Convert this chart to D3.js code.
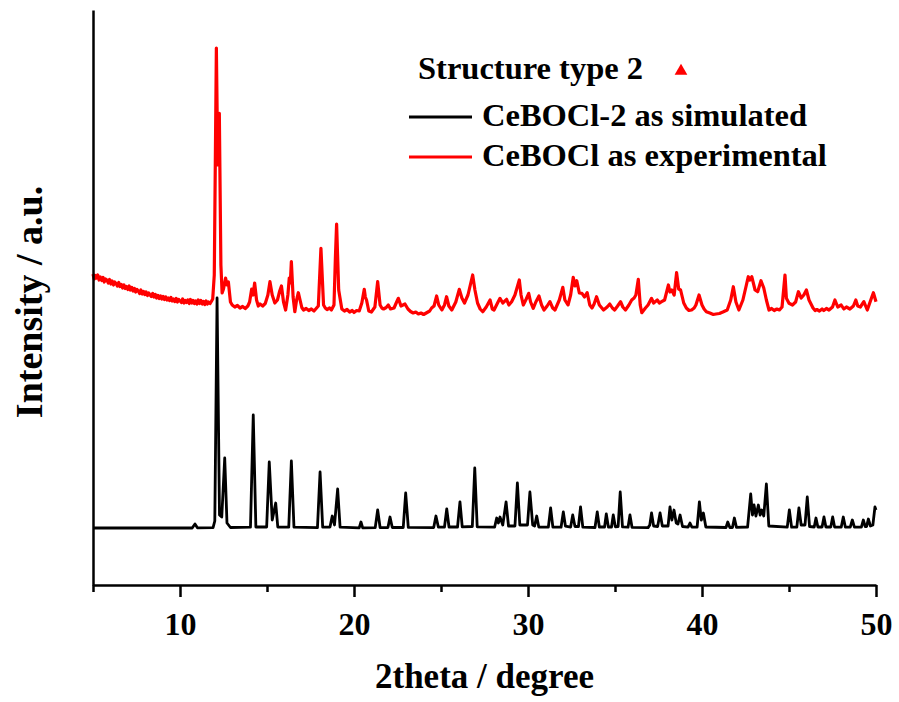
<!DOCTYPE html>
<html>
<head>
<meta charset="utf-8">
<script src="https://cdn.jsdelivr.net/npm/d3@7"></script>
<style>
  html, body { margin: 0; padding: 0; background: #fff; }
  svg { display: block; }
  text { font-family: "Liberation Serif", "Times New Roman", serif; font-weight: bold; fill: #000; }
</style>
</head>
<body>
<svg id="chart" width="899" height="702"></svg>
<script>
// PXRD patterns, 2theta (degree) vs intensity (a.u.), stacked with an offset.
const simulated = [
  [5.0,570],[10.7,570],[10.86,610],[11.0,572],[11.9,574],[12.0,640],[12.13,2870],[12.27,700],[12.4,680],[12.57,1270],[12.7,620],[12.9,575],
  [14.05,578],[14.21,1700],[14.36,580],
  [14.98,580],[15.13,1230],[15.3,650],[15.5,820],[15.62,580],
  [16.25,578],[16.4,1240],[16.55,578],
  [17.9,574],[18.05,1130],[18.2,578],[18.62,580],[18.75,690],[18.88,600],[19.06,960],[19.2,578],
  [20.3,572],[20.4,630],[20.5,572],
  [21.22,574],[21.36,750],[21.5,575],
  [21.95,574],[22.07,680],[22.2,575],
  [22.83,575],[22.97,920],[23.12,576],
  [24.58,574],[24.71,690],[24.85,578],[25.2,580],[25.33,760],[25.46,580],
  [25.95,580],[26.09,830],[26.22,582],[26.8,585],[26.94,1170],[27.08,582],
  [28.08,578],[28.2,670],[28.3,620],[28.39,680],[28.55,600],[28.74,830],[28.88,590],
  [29.25,590],[29.39,1020],[29.53,600],[29.97,600],[30.11,930],[30.27,600],[30.38,590],[30.5,690],[30.62,580],
  [31.17,578],[31.3,770],[31.43,578],
  [31.9,578],[32.03,730],[32.15,590],[32.45,580],[32.57,700],[32.7,585],[32.9,585],[33.02,780],[33.15,578],
  [33.85,575],[33.98,730],[34.1,580],[34.4,580],[34.5,710],[34.62,580],[34.8,580],[34.9,700],[35.02,582],[35.18,585],[35.3,930],[35.43,582],
  [35.75,578],[35.86,700],[35.98,576],
  [36.9,574],[37.0,600],[37.1,720],[37.22,590],[37.45,585],[37.59,720],[37.72,590],
  [38.05,590],[38.16,780],[38.27,650],[38.39,750],[38.52,620],[38.62,610],[38.74,700],[38.88,585],
  [39.2,578],[39.31,620],[39.42,578],[39.72,580],[39.85,830],[39.96,650],[40.08,720],[40.22,580],
  [41.38,575],[41.48,630],[41.6,575],[41.75,575],[41.86,670],[41.98,576],
  [42.62,580],[42.8,910],[42.9,700],[42.99,800],[43.1,690],[43.24,800],[43.34,700],[43.43,750],[43.55,690],[43.7,1010],[43.84,590],
  [44.9,578],[45.02,750],[45.15,578],[45.45,580],[45.57,770],[45.7,600],[45.92,600],[46.05,880],[46.18,585],
  [46.45,580],[46.55,670],[46.66,580],[46.9,580],[47.01,680],[47.12,580],[47.4,580],[47.51,680],[47.62,580],
  [48.0,578],[48.12,680],[48.24,578],[48.52,578],[48.64,650],[48.76,578],[49.16,578],[49.27,650],[49.38,585],
  [49.46,585],[49.56,660],[49.68,590],[49.82,600],[49.94,780],[50.0,750]
];

const experimental = [
  [5.0,3110],[5.07,3060],[5.13,3095],[5.2,3070],[5.27,3100],[5.35,3050],[5.42,3080],[5.5,3045],[5.58,3075],[5.65,3030],
  [5.72,3060],[5.8,3050],[5.88,3020],[5.95,3055],[6.03,3010],[6.1,3040],[6.18,3000],[6.25,3030],[6.33,3015],[6.4,2990],
  [6.48,3025],[6.55,2985],[6.63,3005],[6.7,2970],[6.78,3000],[6.85,2965],[6.93,2985],[7.0,2955],[7.08,2990],[7.15,2950],
  [7.23,2975],[7.3,2940],[7.38,2965],[7.45,2930],[7.53,2955],[7.6,2940],[7.68,2915],[7.75,2950],[7.83,2910],[7.9,2935],
  [7.98,2905],[8.05,2930],[8.13,2895],[8.2,2920],[8.28,2900],[8.35,2885],[8.43,2915],[8.5,2880],[8.58,2905],[8.65,2870],
  [8.73,2895],[8.8,2865],[8.88,2890],[8.95,2860],[9.03,2885],[9.1,2855],[9.18,2880],[9.25,2850],[9.33,2870],[9.4,2845],
  [9.48,2875],[9.55,2840],[9.63,2860],[9.7,2835],[9.78,2865],[9.85,2830],[9.93,2855],[10.0,2840],[10.08,2825],[10.15,2860],
  [10.23,2820],[10.3,2845],[10.38,2825],[10.45,2850],[10.53,2815],[10.6,2855],[10.68,2820],[10.75,2845],[10.83,2815],[10.9,2840],
  [10.98,2810],[11.05,2850],[11.13,2815],[11.2,2845],[11.28,2810],[11.35,2835],[11.43,2805],[11.5,2840],[11.58,2810],[11.65,2830],
  [11.73,2815],[11.8,2835],[11.88,2860],
  [11.97,3100],[12.09,5370],[12.17,4200],[12.26,4717],[12.35,3200],[12.42,2920],[12.5,2960],[12.62,3070],[12.7,3000],[12.78,3030],
  [12.9,2830],[13.0,2800],[13.15,2780],[13.3,2795],[13.45,2770],[13.6,2785],[13.75,2765],[13.9,2790],[14.0,2830],[14.12,2960],[14.2,2900],[14.29,3020],[14.4,2850],
  [14.5,2790],[14.6,2810],[14.75,2790],[14.9,2815],[15.05,2900],[15.17,3033],[15.3,2900],[15.45,2820],[15.6,2850],[15.73,2940],[15.83,2990],[15.95,2830],
  [16.07,2750],[16.2,2900],[16.28,3070],[16.34,3020],[16.4,3233],[16.5,2880],[16.6,2733],[16.7,2850],[16.8,2923],[16.9,2850],
  [17.0,2775],[17.1,2750],[17.25,2765],[17.4,2745],[17.55,2760],[17.7,2740],[17.85,2770],[17.95,2790],[18.1,3367],[18.25,2800],[18.35,2770],[18.45,2755],[18.6,2770],[18.7,2750],[18.85,2800],[18.93,3270],
  [19.0,3610],[19.12,2950],[19.3,2760],[19.45,2740],[19.6,2755],[19.75,2730],[19.9,2745],[20.0,2725],[20.15,2745],[20.3,2740],[20.45,2820],[20.59,2957],[20.65,2880],[20.72,2850],
  [20.85,2740],[21.0,2730],[21.2,2780],[21.36,3033],[21.5,2800],[21.6,2770],[21.7,2760],[21.85,2775],[21.97,2800],[22.1,2760],[22.3,2770],[22.45,2830],
  [22.55,2867],[22.7,2790],[22.93,2810],[23.1,2760],[23.25,2735],[23.4,2720],[23.55,2730],[23.7,2710],[23.85,2720],[24.0,2705],[24.2,2725],[24.35,2740],[24.46,2770],[24.6,2790],[24.75,2890],
  [24.87,2800],[25.05,2750],[25.2,2800],[25.32,2883],[25.45,2790],[25.62,2750],[25.85,2830],[26.05,2957],[26.2,2870],[26.35,2820],
  [26.55,2900],[26.82,3100],[26.95,2950],[27.1,2820],[27.25,2760],[27.4,2733],[27.6,2780],[27.82,2850],[27.95,2760],[28.05,2750],[28.25,2820],
  [28.39,2867],[28.55,2820],[28.77,2857],[28.9,2800],[29.06,2833],[29.25,2900],[29.5,3050],[29.6,2900],[29.73,2800],[29.9,2860],
  [30.04,2917],[30.15,2830],[30.3,2767],[30.45,2830],[30.63,2890],[30.78,2800],[30.92,2750],[31.1,2790],[31.26,2833],[31.42,2770],
  [31.55,2750],[31.8,2850],[32.0,2977],[32.12,2850],[32.3,2800],[32.45,2900],[32.6,3077],[32.7,2990],[32.8,3043],[32.95,2920],
  [33.1,2917],[33.25,2880],[33.4,2923],[33.55,2800],[33.68,2770],[33.8,2810],[33.94,2883],[34.1,2800],[34.34,2750],[34.55,2780],
  [34.7,2810],[34.85,2770],[34.98,2750],[35.15,2790],[35.32,2833],[35.45,2780],[35.6,2750],[35.8,2800],[35.96,2850],[36.1,2870],
  [36.2,2900],[36.34,3057],[36.45,2800],[36.54,2723],[36.75,2770],[36.9,2800],[37.1,2867],[37.22,2820],[37.43,2850],[37.55,2820],
  [37.68,2833],[37.85,2850],[38.07,3000],[38.16,2930],[38.26,2950],[38.4,2900],[38.54,3123],[38.66,2960],[38.77,2950],[38.95,2820],
  [39.1,2770],[39.25,2745],[39.4,2750],[39.55,2770],[39.65,2800],[39.83,2900],[40.0,2800],[40.12,2760],[40.25,2733],[40.45,2720],[40.65,2705],[40.8,2710],[41.0,2715],[41.2,2730],[41.45,2750],[41.65,2850],
  [41.8,2983],[41.95,2830],[42.12,2750],[42.35,2850],[42.55,3000],[42.66,3083],[42.75,3050],[42.86,3083],[43.05,2950],[43.2,2933],[43.39,3043],
  [43.55,2970],[43.7,2850],[43.85,2750],[44.0,2765],[44.15,2745],[44.3,2760],[44.45,2750],[44.6,2780],[44.77,3100],[44.85,2867],[45.0,2817],[45.2,2800],[45.38,2830],
  [45.54,2933],[45.7,2870],[45.85,2900],[46.0,2950],[46.15,2850],[46.38,2770],[46.5,2745],[46.6,2755],[46.75,2740],[46.9,2760],[47.0,2745],[47.15,2765],[47.3,2750],[47.5,2780],
  [47.64,2850],[47.8,2780],[48.0,2800],[48.15,2760],[48.3,2780],[48.5,2760],[48.7,2790],[48.84,2850],[48.95,2790],[49.1,2780],
  [49.3,2833],[49.5,2750],[49.7,2850],[49.85,2923],[50.0,2833]
];

const majorTicks = [10, 20, 30, 40, 50];
const minorTicks = [5, 15, 25, 35, 45];
const legendTitle = "Structure type 2";
const seriesNames = ["CeBOCl-2 as simulated", "CeBOCl as experimental"];
const seriesColors = ["#000000", "#ff0000"];

const svg = d3.select("#chart");
const margin = { left: 93, right: 23, top: 10, bottom: 117 };
const W = 899, H = 702;

const x = d3.scaleLinear().domain([5, 50]).range([margin.left, W - margin.right]);
const y = d3.scaleLinear().domain([0, 5750]).range([H - margin.bottom, margin.top]);

const line = d3.line().x(d => x(d[0])).y(d => y(d[1]));

// curves
svg.append("path").datum(simulated)
  .attr("d", line).attr("fill", "none")
  .attr("stroke", seriesColors[0]).attr("stroke-width", 2.8)
  .attr("stroke-linejoin", "round");
svg.append("path").datum(experimental)
  .attr("d", line).attr("fill", "none")
  .attr("stroke", seriesColors[1]).attr("stroke-width", 3.2)
  .attr("stroke-linejoin", "round");

// x axis: labelled major ticks and short minor ticks
const axisY = H - margin.bottom;
const gMajor = svg.append("g").attr("transform", `translate(0,${axisY})`)
  .call(d3.axisBottom(x).tickValues(majorTicks).tickSize(12).tickSizeOuter(0).tickPadding(15).tickFormat(d3.format("d")));
const gMinor = svg.append("g").attr("transform", `translate(0,${axisY})`)
  .call(d3.axisBottom(x).tickValues(minorTicks).tickSize(7).tickSizeOuter(0).tickFormat(""));
gMinor.select(".domain").remove();
[gMajor, gMinor].forEach(g => {
  g.selectAll("line").attr("stroke", "#000").attr("stroke-width", 2.5);
  g.selectAll(".domain").attr("stroke", "#000").attr("stroke-width", 2.5);
});
gMajor.selectAll("text").style("font-size", "32px").attr("fill", "#000");

// y axis: plain line, no ticks
const gy = svg.append("g").attr("transform", `translate(${margin.left},0)`)
  .call(d3.axisLeft(y).tickValues([]).tickSizeOuter(0));
gy.select(".domain").attr("stroke", "#000").attr("stroke-width", 2.5);

// axis titles
svg.append("text").attr("x", (x(5) + x(50)) / 2).attr("y", 688)
  .attr("text-anchor", "middle").style("font-size", "35px").text("2theta / degree");
svg.append("text").attr("transform", "translate(42,302) rotate(-90)")
  .attr("text-anchor", "middle").style("font-size", "38px").text("Intensity / a.u.");

// legend
svg.append("text").attr("x", 418).attr("y", 79).style("font-size", "32.5px").text(legendTitle);
svg.append("path").attr("d", d3.symbol(d3.symbolTriangle, 70)())
  .attr("transform", "translate(681,71)").attr("fill", "#ff0000");
seriesNames.forEach((name, i) => {
  const ly = 117 + i * 40;
  svg.append("line").attr("x1", 409).attr("x2", 472).attr("y1", ly).attr("y2", ly)
    .attr("stroke", seriesColors[i]).attr("stroke-width", 3);
  svg.append("text").attr("x", 482).attr("y", ly + 9).style("font-size", "32.5px").text(name);
});
</script>
</body>
</html>
